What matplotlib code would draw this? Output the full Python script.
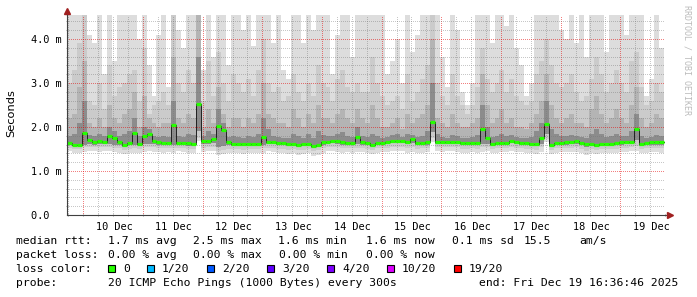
#! /usr/bin/env python3
"""
SmokePing style latency graph: ping smoke, median rtt and the rrdtool legend.
"""

import matplotlib
matplotlib.use("Agg")
import matplotlib.pyplot as plt
import matplotlib.dates as mdates
from matplotlib.patches import Rectangle
import numpy as np
import pandas as pd

END = pd.Timestamp("2025-12-19 16:36:46")
SPAN_HOURS = 239.2
STEP_HOURS = 2

# median rtt per 2 hour step, ms
median_ms = [
    1.63, 1.60, 1.60, 1.87, 1.70, 1.67, 1.68, 1.67, 1.80, 1.76, 1.66, 1.59, 1.63, 1.86, 1.62, 1.80, 1.83, 1.68, 1.66, 1.64,
    1.63, 2.05, 1.63, 1.64, 1.63, 1.62, 2.52, 1.68, 1.68, 1.73, 2.02, 1.93, 1.65, 1.62, 1.61, 1.62, 1.61, 1.62, 1.62, 1.77,
    1.66, 1.66, 1.64, 1.64, 1.61, 1.61, 1.60, 1.61, 1.62, 1.57, 1.60, 1.66, 1.66, 1.68, 1.68, 1.65, 1.64, 1.64, 1.78, 1.65,
    1.63, 1.59, 1.64, 1.64, 1.65, 1.68, 1.68, 1.68, 1.67, 1.72, 1.64, 1.64, 1.65, 2.12, 1.66, 1.66, 1.67, 1.67, 1.66, 1.63,
    1.63, 1.63, 1.63, 1.95, 1.76, 1.61, 1.64, 1.64, 1.64, 1.69, 1.65, 1.64, 1.64, 1.61, 1.61, 1.75, 2.07, 1.59, 1.64, 1.64,
    1.65, 1.66, 1.69, 1.64, 1.62, 1.62, 1.60, 1.62, 1.62, 1.61, 1.63, 1.65, 1.66, 1.66, 1.96, 1.62, 1.64, 1.65, 1.65, 1.65,
]

# smoke: upper edges of the ping bands, outermost (max ping) first
hi1_ms = [
    4.55, 4.55, 4.55, 4.55, 4.10, 3.90, 4.55, 3.20, 4.55, 3.50, 4.55, 4.55, 4.55, 4.55, 4.00, 4.55, 3.40, 2.70, 4.10, 4.55,
    2.90, 4.55, 4.20, 3.80, 4.55, 4.55, 4.55, 3.30, 4.55, 3.60, 4.55, 4.55, 3.40, 4.55, 4.55, 4.20, 4.55, 3.85, 4.55, 4.55,
    4.55, 3.90, 4.55, 3.30, 3.10, 4.55, 4.55, 3.90, 4.55, 4.20, 4.55, 4.55, 4.55, 3.20, 4.10, 4.55, 4.55, 3.60, 4.55, 4.55,
    4.55, 4.55, 4.55, 4.55, 3.20, 3.50, 4.00, 3.00, 4.55, 3.70, 4.10, 4.55, 4.55, 4.55, 4.55, 3.60, 2.90, 4.55, 4.20, 2.80,
    2.50, 3.00, 4.55, 4.55, 4.55, 3.90, 4.55, 4.55, 4.30, 4.55, 3.80, 3.40, 2.70, 3.00, 4.55, 4.55, 4.55, 4.55, 4.55, 4.20,
    4.00, 4.55, 3.90, 4.55, 3.60, 4.55, 4.55, 4.55, 3.70, 4.55, 4.55, 4.55, 4.10, 4.55, 4.55, 4.55, 2.70, 3.10, 4.55, 3.80,
]
hi2_ms = [
    3.00, 3.30, 3.90, 4.55, 2.60, 2.50, 3.00, 2.40, 3.40, 2.70, 2.90, 3.00, 3.20, 3.30, 2.60, 3.80, 2.30, 2.50, 2.60, 2.80,
    2.50, 4.55, 3.00, 2.80, 3.30, 3.00, 4.55, 2.60, 3.50, 2.70, 3.70, 3.00, 2.60, 3.20, 3.00, 2.80, 3.10, 2.70, 3.30, 4.00,
    3.00, 2.80, 2.90, 2.60, 2.70, 3.20, 2.80, 2.60, 3.00, 2.70, 3.40, 3.00, 2.90, 2.60, 3.10, 3.30, 2.90, 2.80, 3.00, 2.80,
    2.80, 3.60, 3.00, 2.70, 2.50, 2.60, 2.70, 2.40, 3.20, 2.60, 2.80, 3.10, 3.40, 4.55, 3.00, 2.70, 2.50, 3.20, 2.70, 2.50,
    2.30, 2.50, 2.90, 3.80, 3.10, 2.80, 3.00, 3.30, 2.80, 3.10, 2.70, 2.60, 2.50, 2.60, 3.20, 3.50, 4.00, 3.40, 3.00, 2.90,
    3.00, 3.20, 2.80, 2.60, 2.70, 3.10, 3.60, 3.20, 2.80, 3.00, 3.30, 3.00, 2.80, 3.50, 3.70, 2.90, 2.50, 2.60, 3.00, 2.80,
]
hi3_ms = [
    2.20, 2.30, 2.90, 3.50, 2.10, 2.00, 2.20, 2.00, 2.50, 2.20, 2.10, 2.30, 2.40, 2.80, 2.00, 2.70, 2.20, 2.10, 2.00, 2.10,
    2.10, 3.60, 2.20, 2.10, 2.30, 2.20, 4.55, 2.00, 2.40, 2.10, 2.90, 2.30, 2.00, 2.20, 2.20, 2.00, 2.20, 2.10, 2.30, 3.00,
    2.30, 2.20, 2.10, 2.10, 2.00, 2.40, 2.20, 2.00, 2.30, 2.10, 2.50, 2.20, 2.20, 2.10, 2.30, 2.40, 2.20, 2.10, 2.40, 2.20,
    2.10, 2.50, 2.20, 2.00, 2.00, 2.10, 2.20, 1.95, 2.30, 2.10, 2.20, 2.30, 2.50, 4.00, 2.20, 2.10, 2.00, 2.30, 2.10, 2.00,
    2.00, 2.10, 2.20, 3.20, 2.50, 2.10, 2.20, 2.40, 2.10, 2.20, 2.00, 2.00, 1.95, 2.10, 2.30, 2.60, 3.20, 2.50, 2.20, 2.10,
    2.20, 2.30, 2.10, 2.10, 2.00, 2.40, 2.70, 2.30, 2.10, 2.20, 2.40, 2.20, 2.10, 2.50, 2.90, 2.20, 2.00, 2.10, 2.30, 2.20,
]
hi4_ms = [
    1.80, 1.85, 2.10, 2.60, 1.82, 1.80, 1.85, 1.80, 2.00, 1.90, 1.80, 1.85, 1.90, 2.20, 1.80, 2.00, 1.95, 1.80, 1.78, 1.80,
    1.78, 2.60, 1.80, 1.78, 1.85, 1.82, 3.60, 1.80, 1.90, 1.85, 2.40, 2.10, 1.78, 1.80, 1.78, 1.76, 1.80, 1.78, 1.85, 2.20,
    1.95, 1.80, 1.78, 1.76, 1.74, 1.85, 1.80, 1.75, 1.85, 1.75, 1.90, 1.82, 1.80, 1.80, 1.85, 1.88, 1.80, 1.78, 2.00, 1.80,
    1.78, 1.85, 1.80, 1.76, 1.78, 1.82, 1.85, 1.78, 1.85, 1.82, 1.78, 1.80, 1.90, 3.00, 1.85, 1.78, 1.75, 1.82, 1.80, 1.76,
    1.76, 1.78, 1.82, 2.50, 2.00, 1.78, 1.80, 1.85, 1.80, 1.82, 1.78, 1.76, 1.75, 1.78, 1.90, 2.10, 2.60, 1.95, 1.85, 1.80,
    1.80, 1.82, 1.80, 1.78, 1.76, 1.85, 1.95, 1.85, 1.78, 1.80, 1.85, 1.80, 1.80, 1.90, 2.30, 1.80, 1.76, 1.78, 1.82, 1.80,
]

# smoke: lower edges, outermost (min ping) first
lo1_ms = [
    1.45, 1.42, 1.42, 1.44, 1.46, 1.45, 1.44, 1.46, 1.45, 1.43, 1.42, 1.38, 1.40, 1.42, 1.40, 1.44, 1.45, 1.44, 1.43, 1.42,
    1.44, 1.42, 1.45, 1.44, 1.42, 1.40, 1.68, 1.44, 1.45, 1.46, 1.36, 1.38, 1.40, 1.42, 1.40, 1.38, 1.40, 1.42, 1.40, 1.42,
    1.45, 1.44, 1.42, 1.40, 1.38, 1.40, 1.36, 1.38, 1.40, 1.35, 1.36, 1.42, 1.45, 1.46, 1.44, 1.42, 1.43, 1.42, 1.44, 1.43,
    1.42, 1.38, 1.42, 1.44, 1.44, 1.45, 1.46, 1.45, 1.42, 1.44, 1.40, 1.42, 1.44, 1.67, 1.45, 1.44, 1.45, 1.46, 1.44, 1.40,
    1.42, 1.43, 1.42, 1.44, 1.45, 1.40, 1.42, 1.44, 1.43, 1.46, 1.44, 1.43, 1.42, 1.40, 1.38, 1.44, 1.65, 1.38, 1.42, 1.43,
    1.43, 1.44, 1.44, 1.40, 1.36, 1.40, 1.38, 1.42, 1.40, 1.40, 1.42, 1.44, 1.44, 1.45, 1.46, 1.40, 1.42, 1.43, 1.43, 1.42,
]
lo2_ms = [
    1.52, 1.50, 1.50, 1.54, 1.55, 1.54, 1.55, 1.54, 1.55, 1.52, 1.52, 1.48, 1.50, 1.52, 1.50, 1.54, 1.55, 1.54, 1.53, 1.52,
    1.52, 1.52, 1.53, 1.52, 1.50, 1.50, 1.76, 1.53, 1.54, 1.55, 1.46, 1.48, 1.50, 1.51, 1.50, 1.48, 1.50, 1.51, 1.50, 1.52,
    1.53, 1.52, 1.51, 1.50, 1.48, 1.49, 1.47, 1.48, 1.50, 1.45, 1.48, 1.52, 1.54, 1.55, 1.54, 1.52, 1.52, 1.52, 1.53, 1.52,
    1.51, 1.48, 1.52, 1.53, 1.53, 1.55, 1.55, 1.54, 1.52, 1.54, 1.50, 1.52, 1.53, 1.75, 1.54, 1.54, 1.55, 1.55, 1.54, 1.50,
    1.51, 1.52, 1.51, 1.54, 1.55, 1.49, 1.52, 1.53, 1.52, 1.55, 1.53, 1.52, 1.51, 1.49, 1.48, 1.54, 1.72, 1.48, 1.52, 1.52,
    1.52, 1.53, 1.54, 1.50, 1.46, 1.49, 1.48, 1.51, 1.50, 1.49, 1.51, 1.53, 1.53, 1.54, 1.56, 1.50, 1.52, 1.52, 1.53, 1.52,
]
lo3_ms = [
    1.58, 1.56, 1.56, 1.60, 1.62, 1.60, 1.62, 1.61, 1.62, 1.60, 1.60, 1.55, 1.58, 1.60, 1.58, 1.62, 1.62, 1.62, 1.60, 1.59,
    1.59, 1.60, 1.59, 1.58, 1.57, 1.57, 1.90, 1.61, 1.62, 1.64, 1.55, 1.56, 1.58, 1.57, 1.56, 1.56, 1.57, 1.57, 1.57, 1.60,
    1.61, 1.61, 1.59, 1.58, 1.56, 1.56, 1.55, 1.56, 1.57, 1.52, 1.55, 1.60, 1.61, 1.63, 1.62, 1.60, 1.59, 1.59, 1.61, 1.60,
    1.58, 1.55, 1.60, 1.60, 1.61, 1.63, 1.63, 1.63, 1.61, 1.64, 1.59, 1.59, 1.60, 1.88, 1.61, 1.61, 1.62, 1.62, 1.61, 1.58,
    1.59, 1.59, 1.59, 1.62, 1.62, 1.56, 1.60, 1.60, 1.60, 1.63, 1.61, 1.60, 1.59, 1.56, 1.56, 1.62, 1.85, 1.55, 1.60, 1.60,
    1.60, 1.61, 1.62, 1.58, 1.55, 1.56, 1.55, 1.58, 1.57, 1.57, 1.59, 1.60, 1.61, 1.61, 1.70, 1.57, 1.59, 1.60, 1.60, 1.60,
]

y_ticks = [0, 1, 2, 3, 4]
y_tick_labels = ["0.0  ", "1.0 m", "2.0 m", "3.0 m", "4.0 m"]
days = [10, 11, 12, 13, 14, 15, 16, 17, 18, 19]

rtt_stats = ["1.7 ms avg", "2.5 ms max", "1.6 ms min", "1.6 ms now", "0.1 ms sd", "15.5", "am/s"]
loss_stats = ["0.00 % avg", "0.00 % max", "0.00 % min", "0.00 % now"]
loss_labels = ["0", "1/20", "2/20", "3/20", "4/20", "10/20", "19/20"]
loss_colours = ["#26ff00", "#00b8ff", "#0059ff", "#5e00ff", "#7e00ff", "#dd00ff", "#ff0000"]
probe_text = "20 ICMP Echo Pings (1000 Bytes) every 300s"
end_text = "end: Fri Dec 19 16:36:46 2025"

W, H = 697, 297
MONO = "DejaVu Sans Mono"
RED_GRID = (0.9, 0.0, 0.0, 0.5)
GREY_GRID = (0.45, 0.45, 0.45, 0.4)


def fx(px):
    return px / W


def fy(py):
    return 1 - py / H


def ext(values):
    return np.append(values, values[-1])


def main():
    plt.rcParams["font.family"] = "DejaVu Sans"
    fig = plt.figure(figsize=(W / 100, H / 100), dpi=100)
    fig.patch.set_facecolor("white")
    ax = fig.add_axes([fx(67), fy(215), 598 / W, 200 / H])

    left = END - pd.Timedelta(hours=SPAN_HOURS)
    starts = pd.date_range(left, periods=len(median_ms), freq=f"{STEP_HOURS}h")
    edges = mdates.date2num(list(starts) + [starts[-1] + pd.Timedelta(hours=STEP_HOURS)])

    # smoke bands, outer to inner
    bands = [
        (lo1_ms, hi1_ms, "#dddddd"),
        (lo2_ms, hi2_ms, "#cbcbcb"),
        (lo3_ms, hi3_ms, "#b4b4b4"),
        (lo3_ms, hi4_ms, "#8c8c8c"),
    ]
    for lo, hi, colour in bands:
        ax.fill_between(edges, ext(lo), ext(hi), step="post", color=colour,
                        linewidth=0, zorder=1)

    # dotted grid on top of the smoke
    day0 = pd.Timestamp("2025-12-09")
    for h in range(0, 11 * 24, 6):
        t = mdates.date2num(day0 + pd.Timedelta(hours=h))
        line = ax.axvline(t, color=RED_GRID if h % 24 == 0 else GREY_GRID,
                          lw=0.72, linestyle=(0, (1, 2)), zorder=3)
        line.set_antialiased(False)
        line.set_snap(True)
    for v in np.arange(0.2, 4.5, 0.2):
        major = abs(v - round(v)) < 1e-6
        line = ax.axhline(v, color=RED_GRID if major else GREY_GRID,
                          lw=0.72, linestyle=(0, (1, 2)), zorder=3)
        line.set_antialiased(False)
        line.set_snap(True)

    # median: thin dark step line plus green dashes per step
    ax.step(edges, ext(median_ms), where="post", color="#202020", lw=0.7, zorder=4)
    ax.hlines(median_ms, edges[:-1], edges[1:], color=loss_colours[0], lw=2.3,
              zorder=5)

    ax.set_xlim(mdates.date2num(left), mdates.date2num(END))
    ax.set_ylim(0, 200 / 44)

    label_pos = [mdates.date2num(pd.Timestamp(2025, 12, d, 12, 24)) for d in days]
    ax.set_xticks(label_pos)
    ax.set_xticklabels([f"{d} Dec" for d in days], family=MONO, fontsize=7.4)
    ax.set_yticks(y_ticks)
    ax.set_yticklabels(y_tick_labels, family=MONO, fontsize=7.4)
    ax.tick_params(axis="x", length=0, pad=5)
    ax.tick_params(axis="y", length=0, pad=4)
    ax.set_xticks(mdates.date2num(
        [day0 + pd.Timedelta(hours=h) for h in range(18, 11 * 24, 6)]), minor=True)
    ax.set_yticks(np.arange(0.2, 4.5, 0.2), minor=True)
    ax.tick_params(which="minor", length=2, width=0.7, color="#999999",
                   direction="inout")

    for side in ("top", "right"):
        ax.spines[side].set_visible(False)
    for side in ("left", "bottom"):
        ax.spines[side].set_color("#404040")
        ax.spines[side].set_linewidth(0.8)
        ax.spines[side].set_zorder(6)

    arrow = "#a02020"
    ax.plot([0, 0], [1, 1.02], transform=ax.transAxes, color="#404040", lw=0.8,
            clip_on=False)
    ax.plot([0], [1.02], marker="^", markersize=4, color=arrow,
            transform=ax.transAxes, clip_on=False)
    ax.plot([1, 1.008], [0, 0], transform=ax.transAxes, color="#404040", lw=0.8,
            clip_on=False)
    ax.plot([1.008], [0], marker=">", markersize=4, color=arrow,
            transform=ax.transAxes, clip_on=False)

    fig.text(fx(11), fy(113), "Seconds", rotation=90, ha="center", va="center",
             fontsize=8.2)
    fig.text(fx(687), fy(5), "RRDTOOL / TOBI OETIKER", rotation=270, ha="center",
             va="top", family=MONO, fontsize=6, color="#bbbbbb")

    # legend block
    font = dict(family=MONO, fontsize=8.2, va="center")
    fig.text(fx(16), fy(241), "median rtt:", **font)
    for x, s in zip([108, 193, 278, 366, 452, 524, 579], rtt_stats):
        fig.text(fx(x), fy(241), s, **font)
    fig.text(fx(16), fy(255), "packet loss:", **font)
    for x, s in zip([108, 193, 279, 366], loss_stats):
        fig.text(fx(x), fy(255), s, **font)
    fig.text(fx(16), fy(269), "loss color:", **font)
    x = 108
    for label, colour in zip(loss_labels, loss_colours):
        fig.add_artist(Rectangle((fx(x), fy(272)), 7 / W, 7.5 / H,
                                 transform=fig.transFigure, facecolor=colour,
                                 edgecolor="black", linewidth=0.8))
        fig.text(fx(x + 15), fy(269), label, **font)
        x += 15 + 7 * len(label) + 17
    fig.text(fx(16), fy(283), "probe:", **font)
    fig.text(fx(108), fy(283), probe_text, **font)
    fig.text(fx(479), fy(283), end_text, **font)

    fig.savefig("out.png", dpi=100, facecolor="white")


if __name__ == "__main__":
    main()
